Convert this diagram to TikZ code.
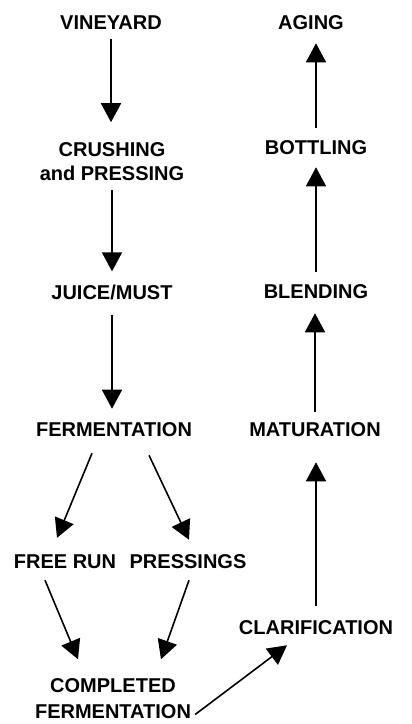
\documentclass[tikz,border=0pt]{standalone}
\usepackage{fontspec}
\setmainfont{Liberation Sans}
\usetikzlibrary{arrows.meta}
\begin{document}
\begin{tikzpicture}
  [x=1pt,y=-1pt,every node/.style={font=\bfseries\fontsize{20}{24}\selectfont,inner sep=4pt,align=center}]
  \tikzstyle{flow} = [line width=1.6pt,-{Triangle[width=20pt,length=19pt]}]
  \useasboundingbox (0,0) rectangle (412,724);
  \node (vine)  at (111,23)    {VINEYARD};
  \node (crush) at (112,161.5) {CRUSHING\\and PRESSING};
  \node (juice) at (112,292)   {JUICE/MUST};
  \node (ferm)  at (114,430)   {FERMENTATION};
  \node (free)  at (65,562)    {FREE RUN};
  \node (press) at (188,562)   {PRESSINGS};
  \node (comp)  at (113,698.5) {COMPLETED\\[2pt]FERMENTATION};
  \node (clar)  at (316,628)   {CLARIFICATION};
  \node (mat)   at (315,430)   {MATURATION};
  \node (blend) at (316,292)   {BLENDING};
  \node (bott)  at (316,148)   {BOTTLING};
  \node (aging) at (311,23)    {AGING};

  \foreach \from/\to/\a/\b in {vine/crush/5/16,crush/juice/5/9,juice/ferm/11/10}
    \draw[flow,shorten <=\a pt,shorten >=\b pt] (\from.south) -- (\from.south |- \to.north);
  \foreach \from/\to/\a/\b in {clar/mat/11/21,mat/blend/7/10,blend/bott/9/8,bott/aging/9/9}
    \draw[flow,shorten <=\a pt,shorten >=\b pt] (\from.north) -- (\from.north |- \to.south);

  \draw[flow] ([xshift=-22pt,yshift=-12pt]ferm.south) -- ([xshift=-8pt,yshift=13pt]free.north);
  \draw[flow] ([xshift=35pt,yshift=-14pt]ferm.south) -- ([xshift=1pt,yshift=11pt]press.north);
  \draw[flow] ([xshift=-20pt,yshift=-7pt]free.south) -- ([xshift=-35pt,yshift=15pt]comp.north);
  \draw[flow] ([xshift=1pt,yshift=-7pt]press.south) -- ([xshift=48pt,yshift=15pt]comp.north);
  \draw[flow] ([yshift=-16pt]comp.east) -- ([xshift=-29pt,yshift=-6pt]clar.south);

\end{tikzpicture}
\end{document}
